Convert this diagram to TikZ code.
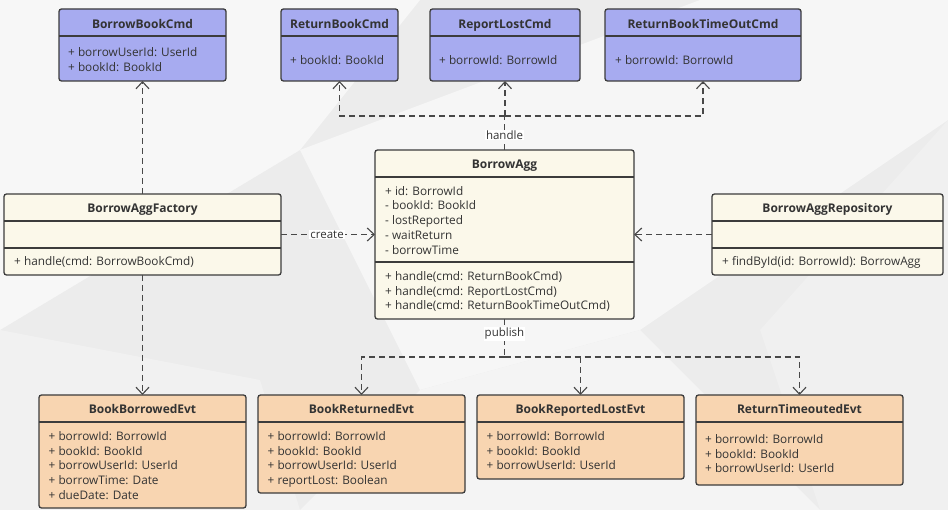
\documentclass[tikz,border=0pt]{standalone}
\usepackage{fontspec}
\setmainfont{Open Sans}
\usetikzlibrary{arrows.meta}

\definecolor{cmdfill}{HTML}{A7ABF0}
\definecolor{aggfill}{HTML}{FBF8EA}
\definecolor{evtfill}{HTML}{F8D5B1}
\definecolor{linec}{HTML}{3C3C3C}
\definecolor{conn}{HTML}{484848}
\definecolor{txt}{HTML}{333333}
\definecolor{bgbase}{HTML}{ECECEC}

% one node per member line, baselines 14.7pt apart
\newcommand\umlmembers[4]{%
  \foreach \m [count=\i from 0] in {#4} {%
    \node[member] (#1-\i) at (#2,{#3+14.7*\i}) {\m};}}

\begin{document}
\begin{tikzpicture}[x=1pt,y=-1pt,
  umlbox/.style={draw=linec, line width=1.3pt, rounded corners=2.5pt,
    anchor=north west, inner sep=0pt, outer sep=0pt},
  cmdbox/.style={umlbox, fill=cmdfill},
  aggbox/.style={umlbox, fill=aggfill},
  evtbox/.style={umlbox, fill=evtfill},
  divider/.style={draw=linec, line width=1.3pt},
  ttl/.style={font=\bfseries\fontsize{12}{14}\selectfont, text=txt,
    inner sep=0pt, anchor=base},
  member/.style={font=\fontsize{11.8}{14}\selectfont, text=txt,
    inner sep=0pt, anchor=base west},
  dep/.style={draw=conn, line width=1.1pt, dash pattern=on 6pt off 4pt},
  deparrow/.style={dep, -{Straight Barb[length=7pt,width=13pt]}},
  lbl/.style={fill=white, inner sep=1pt, font=\fontsize{11.5}{13}\selectfont,
    text=txt}
]
% background
\fill[bgbase] (0,0) rectangle (948,510);
\fill[gray!6] (0,0) -- (420,0) -- (300,150) -- (0,330) -- cycle;
\fill[gray!7] (300,150) -- (700,0) -- (948,0) -- (948,120) -- (640,330) -- (420,390) -- cycle;
\fill[gray!11] (0,330) -- (260,380) -- (300,510) -- (0,510) -- cycle;
\fill[gray!12] (948,120) -- (948,510) -- (820,510) -- (760,330) -- cycle;
\fill[gray!9] (300,510) -- (420,390) -- (640,330) -- (820,510) -- cycle;
\useasboundingbox (0,0) rectangle (948,510);

% commands
\node[cmdbox, minimum width=167pt, minimum height=72pt] (bbc) at (59,9) {};
\node[cmdbox, minimum width=117pt, minimum height=72pt] (rbc) at (281,9) {};
\node[cmdbox, minimum width=150pt, minimum height=72pt] (rlc) at (430,9) {};
\node[cmdbox, minimum width=196pt, minimum height=72pt] (rtc) at (605,9) {};
\foreach \b in {bbc,rbc,rlc,rtc}
  \draw[divider] ([yshift=-27pt]\b.north west) -- ([yshift=-27pt]\b.north east);
\node[ttl] (bbc-t) at (142.5,28.3) {BorrowBookCmd};
\node[ttl] (rbc-t) at (339.5,28.3) {ReturnBookCmd};
\node[ttl] (rlc-t) at (505,28.3) {ReportLostCmd};
\node[ttl] (rtc-t) at (703,28.3) {ReturnBookTimeOutCmd};
\umlmembers{bbc}{68}{56.5}{+ borrowUserId: UserId, + bookId: BookId}
\umlmembers{rbc}{290}{64.3}{+ bookId: BookId}
\umlmembers{rlc}{439}{64.3}{+ borrowId: BorrowId}
\umlmembers{rtc}{615}{64.3}{+ borrowId: BorrowId}

% aggregate, factory, repository
\node[aggbox, minimum width=259pt, minimum height=169pt] (agg) at (375,150) {};
\draw[divider] ([yshift=-27pt]agg.north west) -- ([yshift=-27pt]agg.north east);
\draw[divider] ([yshift=-112pt]agg.north west) -- ([yshift=-112pt]agg.north east);
\node[ttl] (agg-t) at (504.5,169) {BorrowAgg};
\umlmembers{agga}{385}{195.3}{+ id: BorrowId, - bookId: BookId, - lostReported, - waitReturn, - borrowTime}
\umlmembers{aggm}{385}{280.5}{+ handle(cmd: ReturnBookCmd), + handle(cmd: ReportLostCmd), + handle(cmd: ReturnBookTimeOutCmd)}

\node[aggbox, minimum width=277pt, minimum height=81pt] (fac) at (4,194) {};
\node[aggbox, minimum width=231pt, minimum height=81pt] (repo) at (712,194) {};
\foreach \b in {fac,repo} {
  \draw[divider] ([yshift=-27pt]\b.north west) -- ([yshift=-27pt]\b.north east);
  \draw[divider] ([yshift=-54pt]\b.north west) -- ([yshift=-54pt]\b.north east);}
\node[ttl] (fac-t) at (142.5,212.3) {BorrowAggFactory};
\node[ttl] (repo-t) at (827.5,212.3) {BorrowAggRepository};
\umlmembers{fac}{14}{265.7}{+ handle(cmd: BorrowBookCmd)}
\umlmembers{repo}{722}{265.7}{+ findById(id: BorrowId): BorrowAgg}

% events
\node[evtbox, minimum width=207pt, minimum height=113pt] (bbe) at (39,395) {};
\node[evtbox, minimum width=207pt, minimum height=98pt] (bre) at (258,395) {};
\node[evtbox, minimum width=207pt, minimum height=84pt] (brl) at (477,395) {};
\node[evtbox, minimum width=207pt, minimum height=90pt] (rte) at (696,395) {};
\foreach \b in {bbe,bre,brl,rte}
  \draw[divider] ([yshift=-27pt]\b.north west) -- ([yshift=-27pt]\b.north east);
\node[ttl] (bbe-t) at (142.5,413.3) {BookBorrowedEvt};
\node[ttl] (bre-t) at (361.5,413.3) {BookReturnedEvt};
\node[ttl] (brl-t) at (580.5,413.3) {BookReportedLostEvt};
\node[ttl] (rte-t) at (799.5,413.3) {ReturnTimeoutedEvt};
\umlmembers{bbe}{48.5}{440.3}{+ borrowId: BorrowId, + bookId: BookId, + borrowUserId: UserId, + borrowTime: Date, + dueDate: Date}
\umlmembers{bre}{267.5}{440.3}{+ borrowId: BorrowId, + bookId: BookId, + borrowUserId: UserId, + reportLost: Boolean}
\umlmembers{brl}{486.5}{440.3}{+ borrowId: BorrowId, + bookId: BookId, + borrowUserId: UserId}
\umlmembers{rte}{705}{443.5}{+ borrowId: BorrowId, + bookId: BookId, + borrowUserId: UserId}

% dependencies
\draw[deparrow] (fac.north) -- (bbc.south);
\draw[deparrow] (fac.south) -- (bbe.north);
\draw[deparrow] (fac.east) -- node[lbl, pos=0.49] (create) {create} (agg.west);
\draw[deparrow] (repo.west) -- (agg.east);

\coordinate (hj) at (agg.north |- 0,116);
\draw[dep] (agg.north) -- node[lbl, pos=0.44] (handle) {handle} (hj);
\draw[deparrow] (hj) -| (rbc.south);
\draw[deparrow] (hj) -| (rtc.south);
\draw[deparrow] (rlc.south |- hj) -- (rlc.south);

\coordinate (pj) at (agg.south |- 0,357);
\draw[dep] (agg.south) -- node[lbl, pos=0.39] (publish) {publish} (pj);
\draw[deparrow] (pj) -| (bre.north);
\draw[deparrow] (pj) -| (rte.north);
\draw[deparrow] (brl.north |- pj) -- (brl.north);
\end{tikzpicture}
\end{document}
